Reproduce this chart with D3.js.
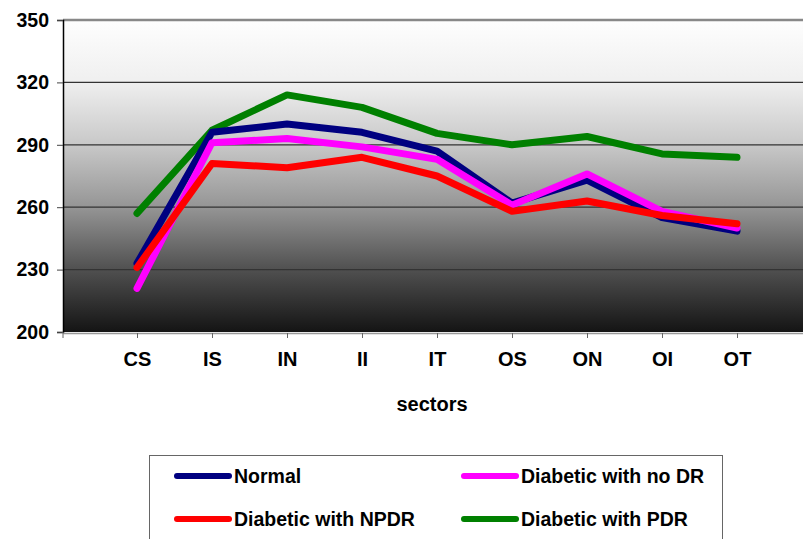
<!DOCTYPE html>
<html><head><meta charset="utf-8">
<script src="https://cdn.jsdelivr.net/npm/d3@7"></script>
<style>body{margin:0;background:#fff}svg{display:block}text{font-family:"Liberation Sans",Arial,sans-serif;font-weight:bold;fill:#000}</style>
</head><body><svg id="c" width="803" height="539"></svg>
<script>
const categories = ["CS","IS","IN","II","IT","OS","ON","OI","OT"];
const seriesNames = ["Normal","Diabetic with no DR","Diabetic with NPDR","Diabetic with PDR"];
const seriesColors = ["#000080","#ff00ff","#ff0000","#008000"];
const normal = [233,296,300,296,287,262,273,255,248.5];
const noDR   = [221,291,293,289,283,261,276,258,250];
const npdr   = [231,281,279,284,275,258,263,256,252];
const pdr    = [257,297,314,308,295.5,290,294,285.6,284];
const yTicks = [200,230,260,290,320,350];
const drawOrder = [3,0,1,2];
const allSeries = [normal,noDR,npdr,pdr];

const svg = d3.select("#c");
const L=63, R=812, T=20, B=332;
const x = d3.scalePoint().domain(categories).range([137,737]);
const y = d3.scaleLinear().domain([200,350]).range([B,T]);

const defs = svg.append("defs");
const g = defs.append("linearGradient").attr("id","bg").attr("x1",0).attr("y1",0).attr("x2",0).attr("y2",1);
[[0,"#fefefe"],[0.2,"#efefef"],[0.4,"#c8c8c8"],[0.6,"#959595"],[0.8,"#505050"],[1,"#141414"]].forEach(s=>g.append("stop").attr("offset",s[0]).attr("stop-color",s[1]));
svg.append("rect").attr("x",L).attr("y",T).attr("width",R-L).attr("height",B-T).attr("fill","url(#bg)");

// gridlines
svg.append("g").selectAll("line").data(yTicks.filter(d=>d>200&&d<350)).join("line")
  .attr("x1",L).attr("x2",R).attr("y1",d=>y(d)).attr("y2",d=>y(d)).attr("stroke","#333").attr("stroke-width",1.2);
svg.append("line").attr("x1",L).attr("x2",R).attr("y1",y(350)).attr("y2",y(350)).attr("stroke","#888").attr("stroke-width",2.5);

// y axis
const ya = svg.append("g").attr("transform",`translate(${L},0)`).call(d3.axisLeft(y).tickValues(yTicks).tickSize(6).tickPadding(8));
ya.select(".domain").attr("stroke","#000").attr("stroke-width",1.5);
ya.selectAll(".tick line").attr("stroke","#444");
ya.selectAll("text").style("font-size","19.5px").style("font-family","Liberation Sans, Arial").style("font-weight","bold").attr("fill","#000");

// x axis
svg.append("line").attr("x1",L).attr("x2",R).attr("y1",B+1.5).attr("y2",B+1.5).attr("stroke","#999").attr("stroke-width",1.5);
const xa = svg.append("g").attr("transform",`translate(0,${B+1})`).call(d3.axisBottom(x).tickSize(5).tickPadding(14));
xa.select(".domain").remove();
xa.selectAll(".tick line").attr("stroke","#666");
xa.selectAll("text").style("font-size","20px").style("font-family","Liberation Sans, Arial").style("font-weight","bold").attr("fill","#000");
svg.append("line").attr("x1",L).attr("x2",L).attr("y1",B).attr("y2",B+6).attr("stroke","#666");

svg.append("text").attr("x",432).attr("y",411).attr("text-anchor","middle").style("font-size","20px").text("sectors");

// lines
const line = d3.line().x((d,i)=>x(categories[i])).y(d=>y(d));
drawOrder.forEach(k=>{
  svg.append("path").datum(allSeries[k]).attr("d",line).attr("fill","none")
    .attr("stroke",seriesColors[k]).attr("stroke-width",7).attr("stroke-linejoin","round").attr("stroke-linecap","round");
});

// legend
svg.append("rect").attr("x",149.5).attr("y",455.5).attr("width",573).attr("height",100).attr("fill","#fff").attr("stroke","#666").attr("stroke-width",1);
const pos = [[177,476],[464,476],[177,519],[464,519]];
seriesNames.forEach((n,i)=>{
  const [lx,ly]=pos[i];
  svg.append("line").attr("x1",lx).attr("x2",lx+52).attr("y1",ly).attr("y2",ly).attr("stroke",seriesColors[i]).attr("stroke-width",6).attr("stroke-linecap","round");
  svg.append("text").attr("x",lx+57).attr("y",ly+7).style("font-size","19.5px").text(n);
});
</script></body></html>
